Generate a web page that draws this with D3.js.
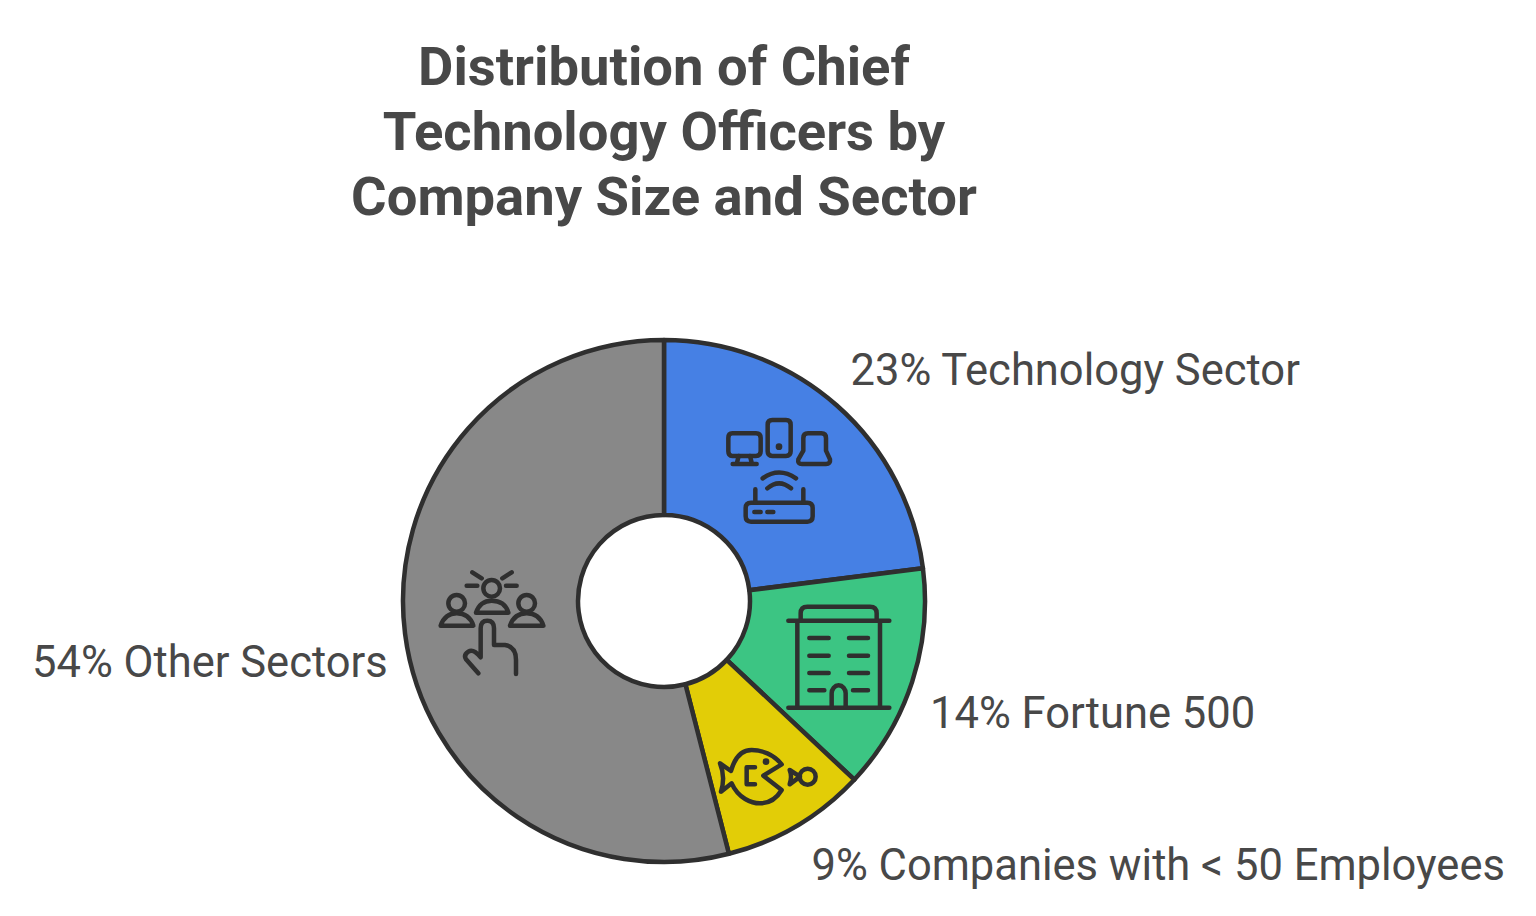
<!DOCTYPE html>
<html><head><meta charset="utf-8">
<script src="https://cdn.jsdelivr.net/npm/d3@7/dist/d3.min.js"></script>
<style>html,body{margin:0;background:#fff}svg{display:block}text{font-family:Roboto,sans-serif}</style>
</head><body><svg id="c" width="1536" height="916"></svg>
<script>
const titleLines = ["Distribution of Chief","Technology Officers by","Company Size and Sector"];
const categories = ["Technology Sector","Fortune 500","Companies with < 50 Employees","Other Sectors"];
const values = [23,14,9,54];
const colors = ["#4680e4","#3cc583","#e2cd07","#888888"];

const W=1536,H=916,cx=664,cy=601,R=261,r=86;
const ink="#2f2f2f", textInk="#484848";
const svg=d3.select("#c").attr("viewBox",[0,0,W,H]);

svg.selectAll("text.t").data(titleLines).join("text").attr("class","t")
  .attr("x",cx).attr("y",(d,i)=>84.5+i*65.2).attr("text-anchor","middle")
  .attr("font-size",54.4).attr("font-weight",700).attr("fill",textInk).text(d=>d);

const pie=d3.pie().sort(null).value(d=>d)(values);
const arc=d3.arc().innerRadius(r).outerRadius(R);
const g=svg.append("g").attr("transform",`translate(${cx},${cy})`);
g.selectAll("path").data(pie).join("path").attr("d",arc)
  .attr("fill",(d,i)=>colors[i]).attr("stroke",ink).attr("stroke-width",4.5).attr("stroke-linejoin","round");

const labelPos=[{x:850.5,y:385},{x:930,y:728},{x:811.5,y:880},{x:32,y:677}];
svg.selectAll("text.l").data(pie).join("text").attr("class","l")
  .attr("x",(d,i)=>labelPos[i].x).attr("y",(d,i)=>labelPos[i].y)
  .attr("font-size",43.5).attr("fill",textInk)
  .text((d,i)=>`${values[i]}% ${categories[i]}`);

const icons=[
 {o:[700,400],p:[
  "M97 100H168Q182 100 182 114V154Q182 168 168 168H97Q85 168 85 154V114Q85 100 97 100Z",
  "M116 168L110 192M150 168L156 192M98 192H170",
  "M217 60H258Q272 60 272 74V154Q272 168 258 168H217Q203 168 203 154V74Q203 60 217 60Z",
  "M310 152V114Q310 100 324 100H364Q378 100 378 114V152L390 178Q392 192 378 192H306Q292 192 295 178Z",
  "M188 235Q237 200 288 235M202 265Q237 235 273 265",
  "M153 308H322Q338 308 338 324V349Q338 365 322 365H153Q137 365 137 349V324Q137 308 153 308Z",
  "M166 268V308M310 268V308M163 336H182M202 336H220"],d:[[237,140,10]]},
 {o:[770,590],p:[
  "M92 90V70Q92 50 112 50H300Q320 50 320 70V90",
  "M55 92H358M82 92V352M330 92V352M55 353H358",
  "M118 144H176M237 144H294M118 197H176M237 197H294M118 249H176M237 249H294M118 301H163M249 301H294",
  "M185 350V310A21 24 0 0 1 227 310V350"],d:[]},
 {o:[705,735],p:[
  "M230 88C205 58 170 45 140 45C110 45 90 65 78 108L45 85Q62 125 48 170L80 145C100 190 140 205 165 205C195 205 215 190 230 165L175 122Z",
  "M150 97H125V148H150",
  "M285 125L254 105Q262 125 254 148Z"],d:[[183,80,10]],c:[[308,125,24]]},
 {o:[430,560],p:[
  "M138 158Q150 122 185 122Q225 122 235 158Z",
  "M32 197Q45 160 80 160Q118 160 130 197Z",
  "M240 197Q253 160 290 160Q328 160 340 197Z",
  "M110 77H142M228 77H260M127 37L155 55M245 37L217 55",
  "M145 340L108 298Q100 285 115 275Q130 265 152 292V205Q152 182 172 182Q192 182 192 205V255H225Q258 260 258 300V342"],
  d:[],c:[[185,85,25],[80,130,25],[290,130,25]]}
];
icons.forEach(ic=>{
  const n=svg.append("g").attr("transform",`translate(${ic.o[0]},${ic.o[1]}) scale(${1/3})`)
    .attr("fill","none").attr("stroke",ink).attr("stroke-width",13.5)
    .attr("stroke-linecap","round").attr("stroke-linejoin","round");
  n.selectAll("path").data(ic.p).join("path").attr("d",d=>d);
  n.selectAll("circle.h").data(ic.c||[]).join("circle").attr("class","h")
    .attr("cx",d=>d[0]).attr("cy",d=>d[1]).attr("r",d=>d[2]);
  n.selectAll("circle.f").data(ic.d).join("circle").attr("class","f")
    .attr("cx",d=>d[0]).attr("cy",d=>d[1]).attr("r",d=>d[2]).attr("fill",ink).attr("stroke","none");
});
</script></body></html>
